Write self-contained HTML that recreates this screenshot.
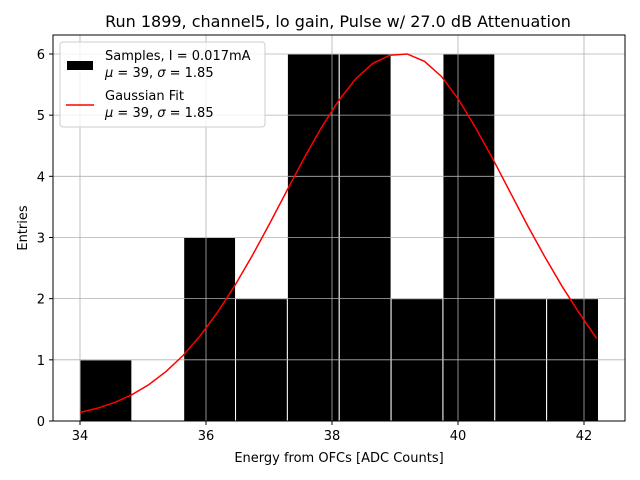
<!DOCTYPE html>
<html><head><meta charset="utf-8"><style>
body{margin:0;background:#fff}
svg{display:block;font-family:"DejaVu Sans","Liberation Sans",sans-serif}
</style></head><body>
<svg id="chart" width="640" height="480" viewBox="0 0 640 480">
<rect width="640" height="480" fill="#fff"/>
<g id="bars"></g><g id="grid"></g><g id="fit"></g><g id="axes"></g>
<text x="338" y="27" text-anchor="middle" font-size="16">Run 1899, channel5, lo gain, Pulse w/ 27.0 dB Attenuation</text>
<text x="339" y="462" text-anchor="middle" font-size="13">Energy from OFCs [ADC Counts]</text>
<text transform="translate(27,228) rotate(-90)" text-anchor="middle" font-size="13">Entries</text>
<g>
<rect x="60" y="42" width="205" height="85" rx="3" fill="#fff" fill-opacity="0.8" stroke="#ccc"/>
<rect x="67" y="61" width="26" height="9" fill="#000"/>
<text x="105" y="60" font-size="13">Samples, I = 0.017mA</text>
<text x="105" y="77" font-size="13"><tspan font-style="italic">μ</tspan> = 39, <tspan font-style="italic">σ</tspan> = 1.85</text>
<line x1="66" y1="105" x2="94" y2="105" stroke="red" stroke-width="1.5"/>
<text x="105" y="100" font-size="13">Gaussian Fit</text>
<text x="105" y="117" font-size="13"><tspan font-style="italic">μ</tspan> = 39, <tspan font-style="italic">σ</tspan> = 1.85</text>
</g>
</svg>
<script>
const binEdgeStart = 34, binEdgeEnd = 42.23;
const binCounts = [1,0,3,2,6,6,2,6,2,2];
const fitX = [34,34.273,34.547,34.82,35.093,35.367,35.64,35.913,36.187,36.46,36.733,37.007,37.28,37.553,37.827,38.1,38.373,38.647,38.92,39.193,39.467,39.74,40.013,40.287,40.56,40.833,41.107,41.38,41.653,41.927,42.2];
const fitY = [0.140,0.208,0.302,0.428,0.595,0.810,1.075,1.399,1.782,2.218,2.701,3.220,3.758,4.289,4.788,5.230,5.589,5.846,5.980,6.0,5.88,5.63,5.25,4.78,4.27,3.73,3.19,2.68,2.20,1.76,1.35];
const xTicks = [34,36,38,40,42];
const yTicks = [0,1,2,3,4,5,6];
const NS="http://www.w3.org/2000/svg";
const L=53,R=625,T=35,B=421;
const sx=v=>80+(v-34)*63.0;
const sy=v=>B-v*61.17;
function mk(tag,attrs,parent){const e=document.createElementNS(NS,tag);for(const k in attrs)e.setAttribute(k,attrs[k]);document.getElementById(parent).appendChild(e);return e;}
xTicks.forEach(t=>{
 const g=mk('line',{x1:sx(t),x2:sx(t),y1:T,y2:B,stroke:'#b0b0b0','stroke-width':0.8},'grid');
 
 
 const k=mk('line',{x1:sx(t),x2:sx(t),y1:B,y2:B+4,stroke:'#000'},'axes');
 
 
 const tx=mk('text',{x:sx(t),y:B+19,'text-anchor':'middle','font-size':13},'axes');
 tx.textContent=t;
 
 
});
yTicks.forEach(t=>{
 const g=mk('line',{x1:L,x2:R,y1:sy(t),y2:sy(t),stroke:'#b0b0b0','stroke-width':0.8},'grid');
 
 
 const k=mk('line',{x1:L-4,x2:L,y1:sy(t),y2:sy(t),stroke:'#000'},'axes');
 
 
 const tx=mk('text',{x:L-8,y:sy(t)+5,'text-anchor':'end','font-size':13},'axes');
 tx.textContent=t;
 
 
});
const w=(binEdgeEnd-binEdgeStart)/binCounts.length;
binCounts.forEach((c,i)=>{
 if(c<=0)return;
 const x0=sx(binEdgeStart+i*w),x1=sx(binEdgeStart+(i+1)*w);
 const r=mk('rect',{x:x0,y:sy(c),width:x1-x0,height:B-sy(c),fill:'#000',stroke:'#fff','stroke-width':1},'bars');
 
 
});
const p=mk('polyline',{points:fitX.map((x,i)=>sx(x)+','+sy(fitY[i])).join(' '),fill:'none',stroke:'red','stroke-width':1.5},'fit');


const f=mk('rect',{x:L,y:T,width:R-L,height:B-T,fill:'none',stroke:'#000','stroke-width':1},'axes');


</script>
</body></html>
